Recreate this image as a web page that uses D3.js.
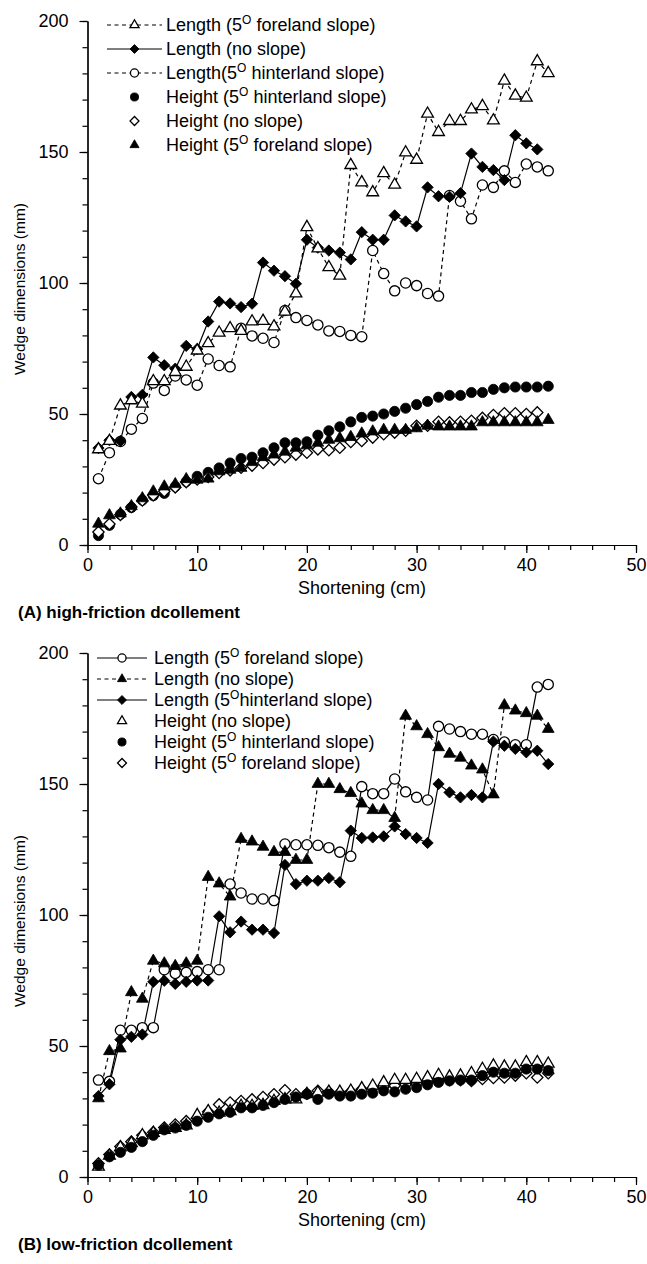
<!DOCTYPE html>
<html>
<head>
<meta charset="utf-8">
<script src="https://cdn.jsdelivr.net/npm/d3@7"></script>
<style>
  body { margin: 0; background: #fff; }
  svg { display: block; font-family: "Liberation Sans", Arial, Helvetica, sans-serif; }
</style>
</head>
<body>
<svg id="chart" width="647" height="1264"></svg>
<script>
// shortening steps (cm)
var shortening = [1, 2, 3, 4, 5, 6, 7, 8, 9, 10, 11, 12, 13, 14, 15, 16, 17, 18, 19, 20, 21,
  22, 23, 24, 25, 26, 27, 28, 29, 30, 31, 32, 33, 34, 35, 36, 37, 38, 39, 40, 41, 42];

var xTicks = [0, 10, 20, 30, 40, 50];
var yTicks = [0, 50, 100, 150, 200];

// (A) high-friction
var aLenForeland = [36.5, 39.7, 53.2, 55.2, 53.9, 62.5, 62.5, 66, 68, 74.2, 77, 81, 82.7, 81.7, 85.3, 85.5, 83.4, 89, 96, 121.3, 113.2,
  106, 102.8, 145, 138.4, 134.6, 141.9, 137.5, 149.8, 147, 164.6, 157.6, 161.8, 161.8, 166.2, 167.5, 162, 177.2, 171.5, 170.7, 184.6, 180.1];
var aLenNoSlope = [37, 40, 39.7, 56.5, 57.3, 71.6, 68.6, 67.3, 76, 74.8, 85.3, 92.9, 92.2, 90.8, 92.1, 107.8, 104.7, 102.6, 99.7, 116.5, 113.5,
  112.4, 111.6, 109, 119.4, 116.5, 116.5, 125.8, 123.5, 121.6, 136.5, 133.1, 132.9, 134.3, 149.4, 144.3, 143.1, 139.3, 156.4, 153.3, 151.0, null];
var aLenHinterland = [25.3, 35.2, 39.5, 44.2, 48.3, 61.8, 59, 64.5, 63, 61, 71, 68.5, 68, 82.7, 79.8, 78.9, 77.3, 89.5, 86.8, 85.7, 84,
  81.7, 81.5, 80, 79.5, 112.4, 103.6, 97, 100, 99, 96, 95, 133.4, 131.2, 124.5, 137.4, 136.5, 142.8, 138.4, 145.4, 144.3, 142.8];
var aHgtHinterland = [3.6, 7.5, 11.7, 14.3, 17.1, 18.8, 19.7, 22.3, 24.2, 26.2, 27.7, 29.4, 31.3, 33, 33.5, 35.2, 37.1, 39, 39, 39.4, 41.9,
  43.6, 45.1, 47, 48.7, 49.2, 50, 51, 52.2, 53.6, 54.8, 56.4, 57.1, 57.1, 58.2, 58.2, 59.4, 60, 60.3, 60.3, 60.3, 60.6];
var aHgtNoSlope = [5, 8, 11.5, 14.5, 17, 19, 20.5, 22, 24, 25, 26, 27.5, 28.5, 29.5, 30.3, 31.3, 32.6, 33.5, 34.5, 35.2, 36.5,
  36.2, 37.1, 39.3, 39.7, 41, 42.3, 42.9, 43.6, 45.5, 45.5, 47, 46.8, 47, 47.4, 48.5, 49.6, 50.3, 50.3, 50, 50.6, null];
var aHgtForeland = [8.1, 11.3, 12, 14.8, 17.8, 20.4, 22.3, 23.2, 25.1, 24.9, 25.3, 28.1, 28.7, 29.4, 31.6, 33.5, 34.5, 35.6, 37.1, 38, 39,
  40.1, 40.7, 41.2, 42.5, 43.3, 43.9, 43.9, 43.9, 44.5, 45.5, 45.2, 45.2, 45.2, 45.2, 46.8, 46.8, 46.8, 46.8, 46.8, 46.8, 47.7];

// (B) low-friction
var bLenForeland = [37, 36.5, 56, 56, 57, 57, 79.1, 77.7, 78.1, 78.4, 79.1, 79.1, 111.8, 108.4, 106.1, 106.1, 105.5, 127.1, 126.8, 126.8, 126.6,
  125.7, 124, 122.4, 149, 146.3, 146.3, 151.9, 147, 144.9, 143.9, 172, 171, 170, 169, 169, 167, 166, 165, 165, 187, 188];
var bLenNoSlope = [30, 48, 49, 70.5, 68, 82.5, 81.5, 80.5, 81.5, 82.5, 114.5, 112, 107, 129, 128, 126, 124, 124, 121, 121, 150,
  150, 148, 146.5, 142.5, 140, 140, 137, 176, 172, 169, 164, 161.5, 160, 157, 155.5, 146, 180, 178, 177, 176, 171];
var bLenHinterland = [30.9, 35.4, 52.4, 53.5, 54.4, 74.5, 74.9, 73.7, 74.5, 75, 75, 99.5, 93.4, 97.5, 94.4, 94.4, 93.1, 119.1, 111.8, 113.1, 113.1,
  114.1, 112.5, 132.2, 129.4, 129.6, 130, 133.8, 130.9, 129.4, 127.5, 150, 146.8, 144.9, 145.8, 144.9, 166.2, 164.6, 163.4, 162.1, 162.7, 157.6];
var bHgtNoSlope = [3.9, 8.1, 11.3, 12.9, 15.9, 16.8, 18, 18.7, 19.7, 23.6, 25.1, 24.5, 25.1, 27.1, 27.1, 27.4, 29, 29.6, 29.6, 31.6, 32.2,
  32.5, 32.5, 32.9, 33.8, 34.8, 36.1, 37, 37, 37.4, 38, 38.9, 38.3, 38.7, 39.6, 41.2, 42.5, 42.1, 42.1, 43.8, 43.8, 43.2];
var bHgtHinterland = [4.5, 7.7, 9.4, 11.3, 13.5, 15.9, 18, 18.7, 19.7, 21.3, 22.8, 24.1, 24.7, 26.4, 26.4, 27.3, 28.4, 29.6, 30.5, 31.6, 29.6,
  31.6, 30.9, 30.9, 31.6, 32, 32.9, 32.5, 33.5, 34.1, 35.2, 36.1, 36.7, 37, 37, 38.7, 40, 39.6, 39.6, 41.2, 41.2, 40.6];
var bHgtForeland = [5.2, 8.6, 11.6, 13.5, 15.9, 17.1, 18.9, 20, 21.3, 22.6, 24.9, 27.7, 28.4, 29, 29.6, 30.5, 31.6, 33.1, 31.6, 31.8, 32.9,
  32.5, 32.2, 32.6, 33.5, 33.9, 34.4, 34.8, 35.2, 35.4, 36.1, 36.7, 37, 37, 36.7, 37.4, 37.8, 38, 38.7, 39.6, 38, 39.6];

var svg = d3.select("#chart");

var symbols = {
  circle: { type: d3.symbolCircle, size: 82, legendSize: 52, rot: 0 },
  triangle: { type: d3.symbolTriangle, size: 60, legendSize: 36, rot: 0 },
  diamond: { type: d3.symbolSquare, size: 64, legendSize: 40, rot: 45 }
};

function drawMarker(g, shape, filled, x, y, legend) {
  var s = symbols[shape];
  g.append("path")
    .attr("d", d3.symbol().type(s.type).size(legend ? s.legendSize : s.size)())
    .attr("transform", "translate(" + x + "," + y + ") rotate(" + s.rot + ")")
    .attr("fill", filled ? "#000" : "#fff")
    .attr("stroke", "#000")
    .attr("stroke-width", filled ? 0.8 : 1.3);
}

function labelText(sel, parts) {
  // parts: [before, superscript, after]
  sel.append("tspan").text(parts[0]);
  if (parts.length > 1) {
    sel.append("tspan").attr("font-size", 12).attr("dy", -7).text(parts[1]);
    sel.append("tspan").attr("dy", 7).text(parts[2]);
  }
}

function drawPanel(cfg) {
  var x = d3.scaleLinear().domain([0, 50]).range([87.5, 636]);
  var y = d3.scaleLinear().domain([0, 200]).range([cfg.bottom, cfg.top]);
  var g = svg.append("g");

  // axes: minor ticks then major ticks with labels
  g.append("g").attr("transform", "translate(0," + cfg.bottom + ")")
    .call(d3.axisBottom(x).tickValues(d3.range(0, 51, 2)).tickSize(5).tickSizeOuter(0).tickFormat(""));
  g.append("g").attr("transform", "translate(0," + cfg.bottom + ")")
    .call(d3.axisBottom(x).tickValues(xTicks).tickSize(8).tickSizeOuter(0).tickPadding(5));
  g.append("g").attr("transform", "translate(87.5,0)")
    .call(d3.axisLeft(y).tickValues(d3.range(0, 201, 10)).tickSize(5).tickSizeOuter(0).tickFormat(""));
  g.append("g").attr("transform", "translate(87.5,0)")
    .call(d3.axisLeft(y).tickValues(yTicks).tickSize(8).tickSizeOuter(0).tickPadding(11));

  g.selectAll(".tick line, .domain").attr("stroke", "#000").attr("stroke-width", 1.2);
  g.selectAll(".tick text").attr("font-size", 18).attr("fill", "#000")
    .attr("font-family", "Liberation Sans, Arial, sans-serif");

  g.append("text")
    .attr("transform", "translate(25," + ((cfg.top + cfg.bottom) / 2 + 6) + ") rotate(-90)")
    .attr("text-anchor", "middle").attr("font-size", 15.5)
    .text("Wedge dimensions (mm)");
  g.append("text")
    .attr("x", 362).attr("y", cfg.bottom + cfg.xTitleDy)
    .attr("text-anchor", "middle").attr("font-size", 18)
    .text("Shortening (cm)");
  g.append("text")
    .attr("x", 18).attr("y", cfg.bottom + cfg.titleDy)
    .attr("font-size", 17).attr("font-weight", "bold")
    .text(cfg.title);

  // lines first, markers on top
  cfg.series.forEach(function(s) {
    if (!s.line) return;
    var line = d3.line()
      .defined(function(d, i) { return s.values[i] != null; })
      .x(function(d) { return x(d); })
      .y(function(d, i) { return y(s.values[i]); });
    g.append("path")
      .datum(shortening)
      .attr("d", line)
      .attr("fill", "none")
      .attr("stroke", "#000")
      .attr("stroke-width", 1.2)
      .attr("stroke-dasharray", s.line === "dashed" ? "4,3.5" : null);
  });

  cfg.drawOrder.forEach(function(k) {
    var s = cfg.series[k];
    shortening.forEach(function(d, i) {
      if (s.values[i] == null) return;
      drawMarker(g, s.shape, s.filled, x(d), y(s.values[i]), false);
    });
  });

  // legend
  var lg = g.append("g");
  cfg.series.forEach(function(s, i) {
    var ly = cfg.legend.y0 + i * cfg.legend.dy;
    if (s.line) {
      lg.append("line")
        .attr("x1", cfg.legend.x1).attr("x2", cfg.legend.x2)
        .attr("y1", ly).attr("y2", ly)
        .attr("stroke", "#000").attr("stroke-width", 1.2)
        .attr("stroke-dasharray", s.line === "dashed" ? "4,3.5" : null);
    }
    drawMarker(lg, s.shape, s.filled, (cfg.legend.x1 + cfg.legend.x2) / 2, ly, true);
    var t = lg.append("text")
      .attr("x", cfg.legend.tx).attr("y", ly + 6)
      .attr("font-size", 18);
    labelText(t, s.label);
  });
}

drawPanel({
  top: 21, bottom: 545, xTitleDy: 49, titleDy: 73,
  title: "(A) high-friction dcollement",
  legend: { x1: 107, x2: 162, tx: 166, y0: 25, dy: 24 },
  drawOrder: [3, 4, 5, 2, 1, 0],
  series: [
    { label: ["Length (5", "O", " foreland slope)"], values: aLenForeland, shape: "triangle", filled: false, line: "dashed" },
    { label: ["Length (no slope)"], values: aLenNoSlope, shape: "diamond", filled: true, line: "solid" },
    { label: ["Length(5", "O", " hinterland slope)"], values: aLenHinterland, shape: "circle", filled: false, line: "dashed" },
    { label: ["Height (5", "O", " hinterland slope)"], values: aHgtHinterland, shape: "circle", filled: true, line: null },
    { label: ["Height (no slope)"], values: aHgtNoSlope, shape: "diamond", filled: false, line: null },
    { label: ["Height (5", "O", " foreland slope)"], values: aHgtForeland, shape: "triangle", filled: true, line: null }
  ]
});

drawPanel({
  top: 653, bottom: 1177, xTitleDy: 49, titleDy: 73,
  title: "(B) low-friction dcollement",
  legend: { x1: 97, x2: 147, tx: 154, y0: 658, dy: 21 },
  drawOrder: [5, 3, 4, 0, 2, 1],
  series: [
    { label: ["Length (5", "O", " foreland slope)"], values: bLenForeland, shape: "circle", filled: false, line: "solid" },
    { label: ["Length (no slope)"], values: bLenNoSlope, shape: "triangle", filled: true, line: "dashed" },
    { label: ["Length (5", "O", "hinterland slope)"], values: bLenHinterland, shape: "diamond", filled: true, line: "solid" },
    { label: ["Height (no slope)"], values: bHgtNoSlope, shape: "triangle", filled: false, line: null },
    { label: ["Height (5", "O", " hinterland slope)"], values: bHgtHinterland, shape: "circle", filled: true, line: null },
    { label: ["Height (5", "O", " foreland slope)"], values: bHgtForeland, shape: "diamond", filled: false, line: null }
  ]
});
</script>
</body>
</html>
